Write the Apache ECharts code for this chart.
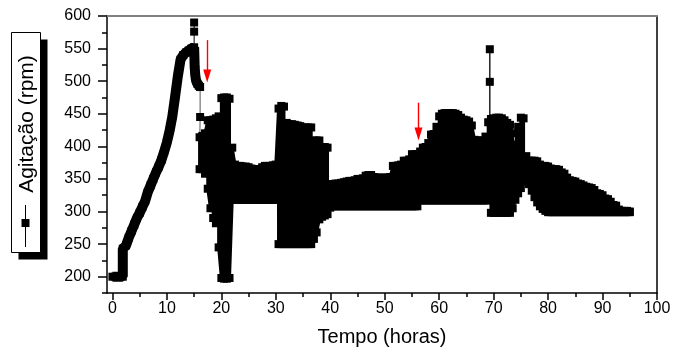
<!DOCTYPE html>
<html>
<head>
<meta charset="utf-8">
<script src="https://cdn.jsdelivr.net/npm/echarts@6/dist/echarts.min.js"></script>
<style>html,body{margin:0;padding:0;background:#fff}#c{width:673px;height:356px}</style>
</head>
<body>
<div id="c"></div>
<script>
// ---- data ----
var seriesName = 'Agitação (rpm)';
var xTitle = 'Tempo (horas)';
var xMajor = [0,10,20,30,40,50,60,70,80,90,100];
var xMinor = [5,15,25,35,45,55,65,75,85,95];
var yMajor = [200,250,300,350,400,450,500,550,600];
var yMinor = [175,225,275,325,375,425,475,525,575];

// single trace: start, ramp-up and first drop (hours, rpm)
var rampT = [0,0.5,1.0,1.5,1.9,1.9,2.5,3.0,3.5,4.0,4.5,5.0,5.5,6.0,6.5,7.0,7.5,8.0,8.5,9.0,9.5,10.0,10.5,11.0,11.5,12.0,12.5,13.0,13.5,14.0,14.5,15.0,15.05,15.1,15.2,15.35,15.6,15.85,16.1];
var rampV = [200,200,200,200,200,243,248,260,270,280,290,298,307,316,330,340,350,360,369,379,392,406,424,446,476,507,533,540,544,547,550,552,538,522,510,501,496,493,491];

// isolated excursions (hours, rpm)
var spike1T = [15.0,15.0,15.0];   var spike1V = [552,576,590];
var dropT   = [16.1,16.1,16.05];  var dropV   = [491,445,414];
var spike2T = [69.3,69.3,69.3];   var spike2V = [443,499,549];

// oscillating period: lower and upper envelope (hours, rpm)
var bandT = [16.0,16.5,17.0,17.5,18.0,18.5,19.0,19.5,20.0,20.5,
  21.0,21.5,22.0,22.5,23.0,23.5,24.0,24.5,25.0,25.5,
  26.0,26.5,27.0,27.5,28.0,28.5,29.0,29.5,30.0,30.5,
  31.0,31.5,32.0,32.5,33.0,33.5,34.0,34.5,35.0,35.5,
  36.0,36.5,37.0,37.5,38.0,38.5,39.0,39.5,40.0,40.5,
  41.0,41.5,42.0,42.5,43.0,43.5,44.0,44.5,45.0,45.5,
  46.0,46.5,47.0,47.5,48.0,48.5,49.0,49.5,50.0,50.5,
  51.0,51.5,52.0,52.5,53.0,53.5,54.0,54.5,55.0,55.5,
  56.0,56.5,57.0,57.5,58.0,58.5,59.0,59.5,60.0,60.5,
  61.0,61.5,62.0,62.5,63.0,63.5,64.0,64.5,65.0,65.5,
  66.0,66.5,67.0,67.5,68.0,68.5,69.0,69.5,70.0,70.5,
  71.0,71.5,72.0,72.5,73.0,73.5,74.0,74.5,75.0,75.5,
  76.0,76.5,77.0,77.5,78.0,78.5,79.0,79.5,80.0,80.5,
  81.0,81.5,82.0,82.5,83.0,83.5,84.0,84.5,85.0,85.5,
  86.0,86.5,87.0,87.5,88.0,88.5,89.0,89.5,90.0,90.5,
  91.0,91.5,92.0,92.5,93.0,93.5,94.0,94.5,95.0];
var bandLo = [365,365,358,335,305,290,282,245,198,197,
  197,198,318,318,318,318,318,318,318,318,
  318,318,318,318,318,318,318,318,318,250,
  250,250,250,250,250,250,250,250,250,250,
  250,250,258,268,288,292,294,296,306,308,
  308,308,308,308,308,308,308,308,308,308,
  308,308,308,308,308,308,308,308,308,308,
  308,308,308,308,308,308,308,308,308,308,
  308,317,317,317,317,317,317,317,317,317,
  317,317,317,317,317,317,317,317,317,317,
  317,317,317,317,317,317,317,298,298,298,
  298,298,298,298,298,305,318,328,336,346,
  352,342,332,322,314,308,304,301,299,299,
  299,299,299,299,299,299,299,299,299,299,
  299,299,299,299,299,299,299,299,299,299,
  299,299,299,299,299,299,299,299,299];
var bandHi = [414,416,420,440,440,441,443,446,474,475,
  475,473,398,372,370,370,369,369,368,366,
  365,365,365,368,370,370,370,371,372,458,
  462,461,436,434,434,433,432,431,429,429,
  429,429,409,409,409,399,399,398,342,342,
  343,343,344,345,346,347,347,348,350,350,
  351,355,356,356,353,352,352,352,352,352,
  353,370,370,371,372,378,378,380,388,388,
  388,392,398,399,405,418,419,430,446,450,
  451,451,451,451,450,448,444,441,440,438,
  432,410,409,409,409,415,437,442,443,444,
  444,443,440,436,433,420,402,430,444,443,
  385,378,378,378,377,372,370,370,369,366,
  365,365,364,360,358,352,348,347,346,343,
  342,340,338,337,336,333,328,327,325,320,
  319,315,310,309,303,301,301,301,300];

// red arrows: [hours, rpm start, rpm end]
var arrows = [[17.4,563,508],[56.2,467,419]];

// ---- build ----
function pairs(t, v){ var o=[]; for(var i=0;i<t.length;i++) o.push([t[i], v[i]]); return o; }
var bandData = [];
for (var i=0;i<bandT.length;i++){
  if (i%2===0){ bandData.push([bandT[i], bandLo[i]]); bandData.push([bandT[i], bandHi[i]]); }
  else { bandData.push([bandT[i], bandHi[i]]); bandData.push([bandT[i], bandLo[i]]); }
}
function thin(t, v, hideFirst, hideLast){
  return pairs(t, v).map(function(p, k){
    var o = {value: p};
    if ((k===0 && hideFirst) || (k===t.length-1 && hideLast)) o.symbol = 'none';
    return o;
  });
}
var FONT = '"Liberation Sans", Arial, Helvetica, sans-serif';
var arrowPath = 'path://M5,0 L10,18 L0,18 Z';

var chart = echarts.init(document.getElementById('c'), null, {renderer:'canvas'});
var axCommonX = {type:'value', min:-1, max:100, splitLine:{show:false}};
var axCommonY = {type:'value', min:175, max:600, splitLine:{show:false}};
var option = {
  animation:false,
  backgroundColor:'#fff',
  grid:{left:107, right:16, top:16, bottom:63, containLabel:false, outerBoundsMode:'none'},
  xAxis:[
    Object.assign({}, axCommonX, {position:'bottom',
      axisLine:{onZero:false, lineStyle:{color:'#000', width:1.5}},
      axisTick:{customValues:xMajor, length:7, lineStyle:{color:'#000', width:1.5}},
      axisLabel:{customValues:xMajor, color:'#000', fontSize:16, fontFamily:FONT, margin:8},
      name:xTitle, nameLocation:'middle', nameGap:34,
      nameTextStyle:{color:'#000', fontSize:20, fontFamily:FONT}}),
    Object.assign({}, axCommonX, {position:'bottom',
      axisLine:{show:false, onZero:false},
      axisTick:{customValues:xMinor, length:4, lineStyle:{color:'#000', width:1.5}},
      axisLabel:{show:false}}),
    Object.assign({}, axCommonX, {position:'top',
      axisLine:{onZero:false, lineStyle:{color:'#808080', width:2}},
      axisTick:{show:false}, axisLabel:{show:false}})
  ],
  yAxis:[
    Object.assign({}, axCommonY, {position:'left',
      axisLine:{onZero:false, lineStyle:{color:'#000', width:1.5}},
      axisTick:{customValues:yMajor, length:9, lineStyle:{color:'#000', width:1.5}},
      axisLabel:{customValues:yMajor, color:'#000', fontSize:16, fontFamily:FONT, margin:16}}),
    Object.assign({}, axCommonY, {position:'left',
      axisLine:{show:false, onZero:false},
      axisTick:{customValues:yMinor, length:5, lineStyle:{color:'#000', width:1.5}},
      axisLabel:{show:false}}),
    Object.assign({}, axCommonY, {position:'right',
      axisLine:{onZero:false, lineStyle:{color:'#000', width:1.5}},
      axisTick:{show:false}, axisLabel:{show:false}})
  ],
  series:[
    {name:seriesName, type:'line', data:bandData, symbol:'rect', symbolSize:8, showSymbol:true, showAllSymbol:true,
     lineStyle:{color:'#000', width:3}, itemStyle:{color:'#000'}, sampling:null, silent:true,
     markLine:{silent:true, symbol:['none', arrowPath], symbolSize:[8,13], z:10,
       label:{show:false}, lineStyle:{color:'#ff0000', width:1.4, type:'solid'},
       data: arrows.map(function(a){
         return [{coord:[a[0], a[1]], symbol:'none'},
                 {coord:[a[0], a[2]], symbol:arrowPath, symbolSize:[8,13]}];
       })}},
    {name:seriesName, type:'line', data:pairs(rampT, rampV), symbol:'rect', symbolSize:8, showAllSymbol:true,
     lineStyle:{color:'#000', width:10}, itemStyle:{color:'#000'}, silent:true},
    {name:seriesName, type:'line', data:thin(spike1T, spike1V, true, false), symbol:'rect', symbolSize:8,
     lineStyle:{color:'#000', width:1}, itemStyle:{color:'#000'}, silent:true},
    {name:seriesName, type:'line', data:thin(dropT, dropV, true, true), symbol:'rect', symbolSize:8,
     lineStyle:{color:'#555', width:1}, itemStyle:{color:'#000'}, silent:true},
    {name:seriesName, type:'line', data:thin(spike2T, spike2V, true, false), symbol:'rect', symbolSize:8,
     lineStyle:{color:'#000', width:1.3}, itemStyle:{color:'#000'}, silent:true}
  ],
  graphic:[
    {type:'rect', shape:{x:18.5, y:39.5, width:29, height:220}, style:{fill:'#000'}, silent:true},
    {type:'rect', shape:{x:11.5, y:32.5, width:29, height:220}, style:{fill:'#fff', stroke:'#000', lineWidth:1}, silent:true},
    {type:'line', shape:{x1:25.5, y1:205, x2:25.5, y2:247}, style:{stroke:'#000', lineWidth:1}, silent:true},
    {type:'rect', shape:{x:21.5, y:219, width:8, height:8}, style:{fill:'#000'}, silent:true},
    {type:'text', x:27, y:124, rotation:Math.PI/2, silent:true,
     style:{text:seriesName, fill:'#000', fontSize:21, fontFamily:FONT, align:'center', verticalAlign:'middle'}}
  ]
};
chart.setOption(option);
</script>
</body>
</html>
